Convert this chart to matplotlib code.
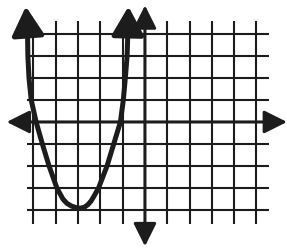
import matplotlib
matplotlib.use("Agg")
import matplotlib.pyplot as plt

# grid extents (units)
grid_x = list(range(-5, 6))
grid_y = [-4, -3, -2, -1, 1, 2, 3, 4]

# parabola points (left branch top -> vertex -> right branch top)
curve_x = [-5.27, -5.25, -5.2, -5.1, -4.88, -4.6, -4.3, -3.95, -3.68, -3.5,
           -3.3, -3.1, -2.91, -2.72, -2.56, -2.42, -2.3, -2.08, -1.7, -1.4,
           -1.1, -0.97, -0.88, -0.8, -0.76]
curve_y = [4.3, 3.0, 2.0, 1.0, 0.0, -1.0, -2.0, -3.0, -3.5, -3.7,
           -3.82, -3.89, -3.92, -3.88, -3.76, -3.6, -3.4, -3.0, -2.0, -1.0,
           0.0, 1.0, 2.0, 3.0, 4.3]
left_tip = (-5.34, 5.25)
right_tip = (-0.74, 5.25)

ink = "#1c1c1c"

fig = plt.figure(figsize=(2.87, 2.51), dpi=100)
ax = fig.add_axes([0, 0, 1, 1])
ax.set_xlim(-6.5, 6.37)
ax.set_ylim(-5.82, 5.59)
ax.axis("off")

for gx in grid_x:
    if gx != 0:
        ax.plot([gx, gx], [-4.64, 4.59], color=ink, lw=1.5, solid_capstyle="butt")
for gy in grid_y:
    ax.plot([-5.29, 5.56], [gy, gy], color=ink, lw=1.5, solid_capstyle="butt")

def arrow(tail, tip, lw, hl, hw, ms):
    ax.annotate("", xy=tip, xytext=tail,
                arrowprops=dict(arrowstyle="-|>,head_length=%s,head_width=%s" % (hl, hw),
                                color=ink, lw=lw, shrinkA=0, shrinkB=0,
                                mutation_scale=ms))

# axes with arrowheads
arrow((0, 0), (6.37, 0), 2.2, 0.7, 0.35, 20)
arrow((0, 0), (-6.2, 0), 2.2, 0.7, 0.35, 20)
arrow((0, 0), (0, 5.3), 2.2, 0.7, 0.35, 20)
arrow((0, 0), (0, -5.65), 2.2, 0.7, 0.35, 20)

# parabola
ax.plot(curve_x, curve_y, color=ink, lw=3.6, solid_capstyle="butt",
        solid_joinstyle="round")
arrow((curve_x[0], curve_y[0]), left_tip, 3.6, 0.8, 0.45, 22)
arrow((curve_x[-1], curve_y[-1]), right_tip, 3.6, 0.8, 0.45, 22)

fig.savefig("out.png", dpi=100)
